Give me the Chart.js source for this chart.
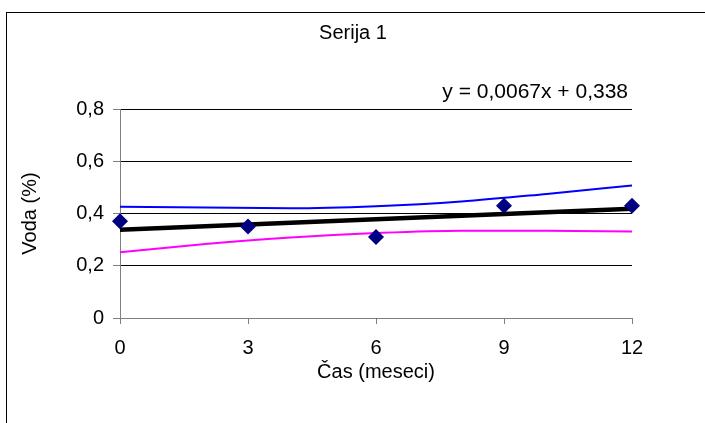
<!DOCTYPE html>
<html>
<head>
<meta charset="utf-8">
<title>Serija 1</title>
<script src="https://cdn.jsdelivr.net/npm/chart.js@4/dist/chart.umd.min.js"></script>
<style>
  html, body { margin: 0; padding: 0; background: #fff; overflow: hidden; }
  #wrap { position: relative; width: 705px; height: 423px; }
  #frame { position: absolute; left: 6px; top: 12px; width: 800px; height: 500px;
           border-left: 1px solid #000; border-top: 1px solid #000; }
  canvas { position: absolute; left: 0; top: 0; }
</style>
</head>
<body>
<div id="wrap">
  <div id="frame"></div>
  <canvas id="myChart" width="705" height="423"></canvas>
</div>
<script>
// measured water content per month
var months = [0, 3, 6, 9, 12];
var voda = [0.37, 0.35, 0.31, 0.43, 0.43];

// linear trend as printed on the chart
var slope = 0.0067;
var intercept = 0.338;

// upper / lower band curves
var bandX = [0, 2, 4, 6, 8, 10, 12];
var bandUpper = [0.426, 0.423, 0.420, 0.428, 0.446, 0.475, 0.507];
var bandLower = [0.252, 0.283, 0.308, 0.325, 0.334, 0.334, 0.331];

var xTicks = [0, 3, 6, 9, 12];
var yTicks = ['0', '0,2', '0,4', '0,6', '0,8'];

var fontFamily = "'Liberation Sans', Arial, sans-serif";
Chart.defaults.font.family = fontFamily;
Chart.defaults.font.size = 20;
Chart.defaults.color = '#000';

function pts(xs, ys) {
  return xs.map(function (x, i) { return { x: x, y: ys[i] }; });
}
function comma(v) { return String(v).replace('.', ','); }

var trendX = [months[0], months[months.length - 1]];
var trendY = trendX.map(function (x) { return intercept + slope * x; });

var textPlugin = {
  id: 'chartTexts',
  afterDraw: function (chart) {
    var c = chart.ctx;
    c.save();
    c.fillStyle = '#000';
    c.textBaseline = 'middle';
    c.font = '20px ' + fontFamily;
    c.textAlign = 'center';
    c.fillText('Serija 1', 353, 33);
    c.font = '21px ' + fontFamily;
    c.textAlign = 'right';
    c.fillText('y = ' + comma(slope) + 'x + ' + comma(intercept), chart.chartArea.right - 4, 92);
    c.restore();
  }
};

var ctx = document.getElementById('myChart');
var myChart = new Chart(ctx, {
  type: 'scatter',
  data: {
    datasets: [{
      label: 'Serija 1',
      data: pts(months, voda),
      pointStyle: 'rectRot',
      pointRadius: 8,
      pointHoverRadius: 8,
      backgroundColor: '#000080',
      borderColor: '#000080',
      borderWidth: 0,
      showLine: false,
      clip: false,
      order: 0
    }, {
      label: 'trend',
      data: pts(trendX, trendY),
      showLine: true,
      borderColor: '#000',
      borderWidth: 4.5,
      pointRadius: 0,
      order: 1
    }, {
      label: 'gornja',
      data: pts(bandX, bandUpper),
      showLine: true,
      borderColor: '#0000ff',
      borderWidth: 2,
      pointRadius: 0,
      cubicInterpolationMode: 'monotone',
      order: 2
    }, {
      label: 'donja',
      data: pts(bandX, bandLower),
      showLine: true,
      borderColor: '#ff00ff',
      borderWidth: 2,
      pointRadius: 0,
      cubicInterpolationMode: 'monotone',
      order: 3
    }]
  },
  options: {
    responsive: false,
    devicePixelRatio: 1,
    animation: false,
    layout: { padding: { left: 0, right: 73, top: 109, bottom: 0 } },
    plugins: {
      legend: { display: false },
      tooltip: { enabled: false }
    },
    scales: {
      x: {
        type: 'linear',
        min: 0,
        max: 12,
        afterFit: function (s) { s.height = 105; },
        afterBuildTicks: function (s) {
          s.ticks = xTicks.map(function (v) { return { value: v }; });
        },
        ticks: {
          padding: 12,
          maxRotation: 0,
          callback: function (v) { return String(v); }
        },
        grid: {
          drawOnChartArea: false,
          tickLength: 6,
          tickColor: '#808080'
        },
        border: { color: '#808080', width: 1 },
        title: {
          display: true,
          text: 'Čas (meseci)',
          padding: { top: 0, bottom: 39 }
        }
      },
      y: {
        min: 0,
        max: 0.8,
        afterFit: function (s) { s.width = 120; },
        ticks: {
          stepSize: 0.2,
          padding: 9,
          callback: function (v, i) { return yTicks[i]; }
        },
        grid: {
          color: '#000',
          tickLength: 7,
          tickColor: '#808080'
        },
        border: { color: '#808080', width: 1 },
        title: {
          display: true,
          text: 'Voda (%)',
          padding: { top: 18, bottom: 0 }
        }
      }
    }
  },
  plugins: [textPlugin]
});
</script>
</body>
</html>
